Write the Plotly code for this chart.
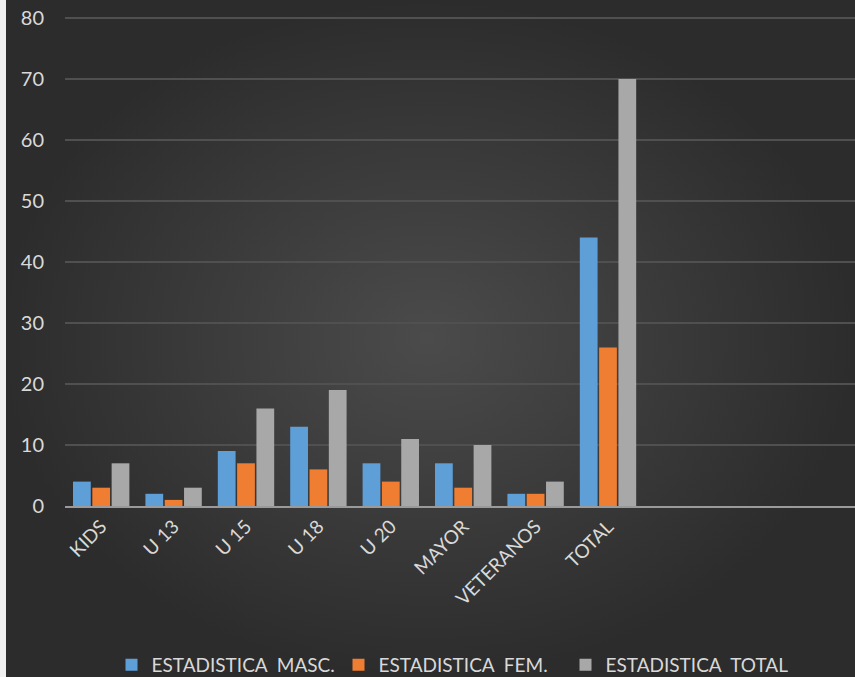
import plotly.graph_objects as go

categories = ["KIDS", "U 13", "U 15", "U 18", "U 20", "MAYOR", "VETERANOS", "TOTAL"]
masc = [4, 2, 9, 13, 7, 7, 2, 44]
fem = [3, 1, 7, 6, 4, 3, 2, 26]
total = [7, 3, 16, 19, 11, 10, 4, 70]
series_names = ["ESTADISTICA\u00a0 MASC.", "ESTADISTICA\u00a0 FEM.", "ESTADISTICA\u00a0 TOTAL"]
colors = ["#5f9fd8", "#ef7e33", "#a8a8a8"]

W, H = 855, 677
L, R, T, B = 65, 0, 18, 171
slot = 72.4

fig = go.Figure()

# background gradient on a full-page helper subplot
fig.add_trace(go.Scatter(
    x=[0, 1, 1, 0, 0], y=[0, 0, 1, 1, 0], mode="lines", fill="toself",
    line=dict(width=0), hoverinfo="skip", showlegend=False,
    fillgradient=dict(type="radial", colorscale=[[0, "#4b4b4b"], [1, "#2c2c2c"]]),
    xaxis="x2", yaxis="y2"))

for name, vals, col in zip(series_names, [masc, fem, total], colors):
    fig.add_trace(go.Bar(x=categories, y=vals, name=name, marker=dict(color=col, line=dict(width=0)),
                         xaxis="x3", yaxis="y3"))

font = "Lato, 'Open Sans', sans-serif"
ymax = 80.2
fig.update_layout(
    width=W, height=H,
    margin=dict(l=0, r=0, t=0, b=0, pad=0, autoexpand=False),
    paper_bgcolor="#2e2e2e", plot_bgcolor="rgba(0,0,0,0)",
    font=dict(family=font, color="#d9d9d9"),
    barmode="group", bargap=0.2, bargroupgap=0.08,
    xaxis2=dict(domain=[0, 1], range=[0, 1], visible=False, fixedrange=True, automargin=False),
    yaxis2=dict(domain=[0, 1], range=[0, 1], visible=False, fixedrange=True, automargin=False),
    xaxis3=dict(domain=[L / W, 1], anchor="y3", type="category", automargin=False,
                range=[-0.5, -0.5 + (W - L) / slot],
                showgrid=False, showline=True, linecolor="#9a9a9a", linewidth=2,
                tickangle=-45, tickfont=dict(size=19, color="#d9d9d9"), ticks=""),
    yaxis3=dict(domain=[B / H, (B + 488 * ymax / 80) / H], anchor="x3", range=[0, ymax],
                automargin=False,
                tickvals=[0, 10, 20, 30, 40, 50, 60, 70, 80],
                showgrid=True, gridcolor="#505050", gridwidth=2, zeroline=False,
                tickfont=dict(size=20, color="#d9d9d9"), ticklabelstandoff=20),
    legend=dict(orientation="h", x=(W - L) / 2 / W + L / W - 8 / W, xanchor="center",
                y=-7 / H, yanchor="bottom", font=dict(size=19, color="#d9d9d9"),
                bgcolor="rgba(0,0,0,0)", entrywidth=182, itemwidth=30),
    shapes=[dict(type="rect", xref="paper", yref="paper", x0=0, x1=6 / W, y0=0, y1=1,
                 fillcolor="#f0f0f0", line=dict(width=0), layer="above")],
)

fig.write_html("out.html", config={"displayModeBar": False},
               post_script="document.body.style.margin='0';document.documentElement.style.overflow='hidden';")
